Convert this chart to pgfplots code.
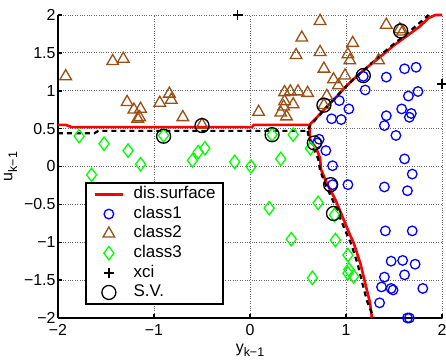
\documentclass[border=0pt]{standalone}
\usepackage{fontspec}
\setmainfont{Liberation Sans}
\usepackage{pgfplots}
\pgfplotsset{compat=1.18}
\definecolor{brn}{RGB}{153,80,20}
\definecolor{grn}{RGB}{0,255,0}
\definecolor{blu}{RGB}{0,0,255}
\pgfplotsset{
 lgline/.style={legend image code/.code={\draw[draw=none] (0bp,0bp)--(6bp,0bp); \draw[##1] (6bp,0bp)--(34bp,0bp);}},
 lgmark/.style={legend image code/.code={\draw[draw=none] (0bp,0bp)--(34bp,0bp); \draw[##1] plot coordinates {(20bp,0bp)};}},
}
\newcommand{\sub}[1]{\raisebox{-0.3em}{\fontsize{12.5}{14}\selectfont #1}}
\begin{document}
\begin{tikzpicture}
\begin{axis}[
 scale only axis, width=384bp, height=303bp,
 xmin=-2,xmax=2,ymin=-2,ymax=2,
 axis x line*=bottom, axis y line*=left,
 axis line style={line width=2bp,-},
 xtick={-2,-1,0,1,2}, xticklabels={−2,−1,0,1,2},
 ytick={-2,-1.5,-1,-0.5,0,0.5,1,1.5,2},
 yticklabels={−2,−1.5,−1,−0.5,0,0.5,1,1.5,2},
 tick align=inside, major tick length=4bp,
 tick style={black,line width=1.5bp},
 grid=major, major grid style={dotted,black!60,line width=0.8bp},
 ticklabel style={font=\fontsize{16}{19}\selectfont},
 xticklabel style={yshift=-3bp},
 yticklabel style={xshift=1bp},
 label style={font=\fontsize{16}{19}\selectfont},
 xlabel={y\sub{k−1}}, ylabel={u\sub{k−1}},
 xlabel style={yshift=-1bp},
 clip=false,
 legend cell align=left,
 legend style={at={(axis cs:-1.72,-0.20)}, anchor=north west, draw=black,
   line width=2bp, fill=white, inner xsep=3bp, inner ysep=2bp,
   font=\fontsize{17}{19}\selectfont,
   nodes={text height=12bp, text depth=3.5bp, inner ysep=2.05bp, inner xsep=4.5bp},
   /tikz/every odd column/.style={column sep=5bp}},
]
\coordinate (O) at (rel axis cs:0,0);
% class1
\addplot[only marks, mark=o, blu, mark size=4.8bp, line width=1.3bp, forget plot] coordinates {
(1.18,1.19)(1.20,1.01)(1.61,1.29)(1.73,1.31)(1.42,1.18)(1.75,0.99)(1.65,0.93)
(0.93,0.87)(1.03,0.76)(0.85,0.63)(0.95,0.62)(1.58,0.76)(1.68,0.70)(1.66,0.65)
(1.42,0.67)(1.40,0.54)(1.52,0.41)(0.72,0.36)(0.70,0.31)(0.79,0.21)
(0.86,0.01)(1.61,0.10)(1.69,-0.10)(0.86,-0.24)(1.02,-0.24)(1.40,-0.27)(1.64,-0.32)
(1.41,-0.85)(1.69,-0.85)(1.47,-1.25)(1.59,-1.24)(1.72,-1.29)(1.61,-1.43)(1.40,-1.46)
(1.37,-1.59)(1.47,-1.61)(1.49,-1.63)(1.80,-1.61)(1.35,-1.80)(1.64,-2.0)(1.66,-2.0)};
% class2
\addplot[only marks, mark=triangle, brn, mark size=6.7bp, line width=1.3bp, forget plot] coordinates {
(-1.92,1.19)(-1.43,1.39)(-1.32,1.42)(-1.28,0.85)(-1.21,0.75)(-1.14,0.76)(-1.17,0.63)
(-1.15,0.65)(-0.94,0.84)(-0.84,0.96)(-0.82,0.88)(-0.70,0.65)(-0.50,0.55)
(0.73,1.92)(0.54,1.70)(0.48,1.47)(0.73,1.51)(0.77,1.29)(0.87,1.15)(0.92,1.07)(0.99,1.20)
(1.07,1.63)(1.02,1.48)(1.04,1.40)(1.34,1.40)(1.42,1.87)(1.56,1.81)(1.59,1.78)
(0.36,0.98)(0.42,0.99)(0.50,0.99)(0.60,0.97)(0.36,0.86)(0.45,0.82)(0.35,0.79)
(0.32,0.71)(0.38,0.66)(0.09,0.72)(0.80,0.93)(0.77,0.81)};
% class3
\addplot[only marks, mark=diamond, grn, mark size=6.7bp, line width=1.3bp, forget plot] coordinates {
(-1.78,0.40)(-1.52,0.30)(-1.27,0.21)(-1.14,0.03)(-1.65,-0.11)(-0.90,0.41)(-0.60,0.08)
(-0.54,0.19)(-0.47,0.24)(-0.16,0.06)(0.01,0.0)(0.23,0.42)(0.45,0.42)(0.32,0.10)
(0.63,0.24)(0.20,-0.55)(0.71,-0.48)(0.88,-0.64)(0.43,-0.96)(0.89,-0.97)(0.65,-1.47)
(1.02,-1.17)(1.03,-1.36)(1.02,-1.41)(1.08,-1.45)};
% xci
\addplot[only marks, mark=+, black, mark size=5bp, line width=1.3bp, forget plot] coordinates {
(-0.13,2.0)(2.0,1.09)};
% S.V.
\addplot[only marks, mark=o, black, mark size=7bp, line width=1.3bp, forget plot] coordinates {
(-0.90,0.40)(-0.50,0.54)(0.23,0.42)(0.67,0.31)(0.77,0.81)(1.18,1.20)(1.57,1.79)(0.84,-0.24)(0.87,-0.62)};
% decision surface
\addplot[red, line width=2.6bp, forget plot] coordinates {
(-2,0.55)(-1.92,0.55)(-1.86,0.52)(0.02,0.52)(0.04,0.55)(0.62,0.55)
(0.69,0.64)(0.80,0.79)(0.90,0.92)(1.01,1.07)(1.11,1.19)(1.23,1.32)(1.34,1.43)
(1.49,1.59)(1.63,1.72)(1.77,1.85)(1.86,1.96)(1.93,2.0)(2.0,2.0)};
\addplot[red, line width=2.6bp, forget plot] coordinates {
(0.62,0.55)(0.625,0.35)(0.69,0.24)(0.73,0.11)(0.74,-0.04)(0.80,-0.22)(0.89,-0.44)
(0.95,-0.62)(1.02,-0.84)(1.08,-1.01)(1.15,-1.28)(1.20,-1.54)(1.25,-1.80)(1.27,-2.0)};
\addplot[black, line width=2.2bp, dash pattern=on 5bp off 4bp, forget plot] coordinates {
(-2,0.44)(-1.62,0.44)(-1.58,0.47)(0.60,0.47)
(0.62,0.53)(0.74,0.70)(0.86,0.87)(0.98,1.03)(1.10,1.18)(1.22,1.31)(1.35,1.46)
(1.50,1.62)(1.64,1.76)(1.77,1.90)(1.86,2.0)};
\addplot[black, line width=2.2bp, dash pattern=on 5bp off 4bp, forget plot] coordinates {
(0.60,0.47)(0.61,0.40)(0.66,0.25)(0.71,0.10)(0.73,-0.05)(0.78,-0.22)(0.86,-0.44)
(0.92,-0.62)(0.99,-0.84)(1.05,-1.01)(1.12,-1.28)(1.17,-1.54)(1.22,-1.78)(1.29,-2.0)};
% legend
\addlegendimage{red, line width=2.6bp, lgline}
\addlegendentry{dis.surface}
\addlegendimage{blu, mark=o, mark size=4.8bp, line width=1.3bp, lgmark}
\addlegendentry{class1}
\addlegendimage{brn, mark=triangle, mark size=6.7bp, line width=1.3bp, lgmark}
\addlegendentry{class2}
\addlegendimage{grn, mark=diamond, mark size=6.7bp, line width=1.3bp, lgmark}
\addlegendentry{class3}
\addlegendimage{black, mark=+, mark size=5bp, line width=1.3bp, lgmark}
\addlegendentry{xci}
\addlegendimage{black, mark=o, mark size=7bp, line width=1.3bp, lgmark}
\addlegendentry{S.V.}
\end{axis}
\pgfresetboundingbox
\path (O) ++(-58bp,-42bp) rectangle ++(446bp,360bp);
\end{tikzpicture}
\end{document}
